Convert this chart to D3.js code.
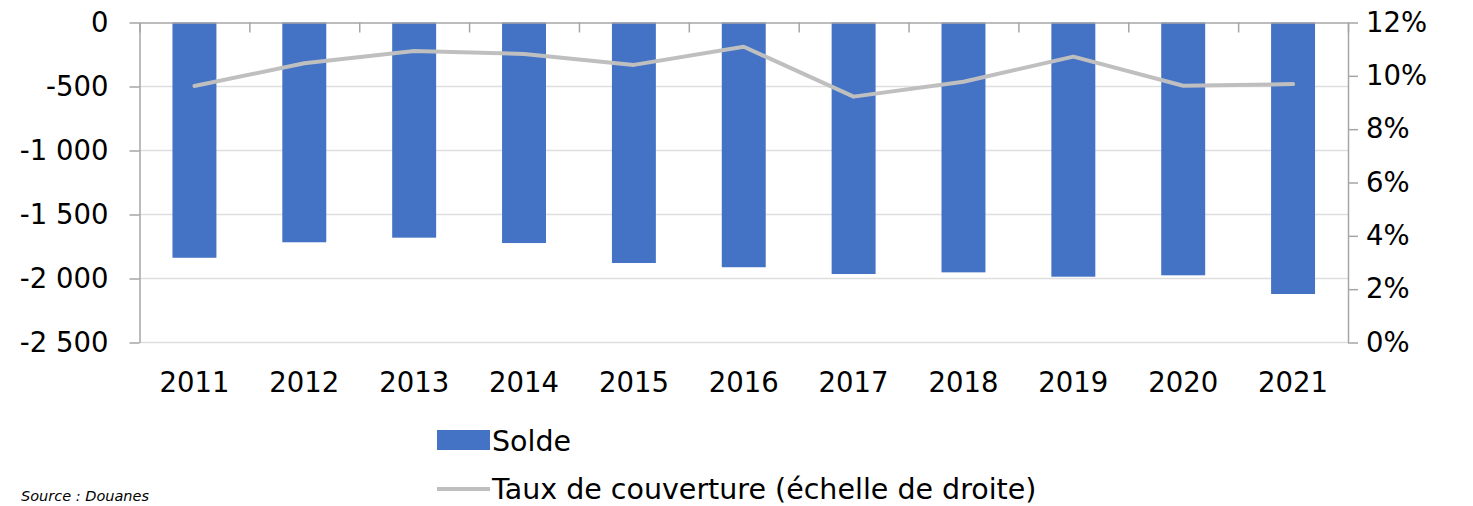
<!DOCTYPE html>
<html>
<head>
<meta charset="utf-8">
<script src="https://cdn.jsdelivr.net/npm/d3@7"></script>
<style>
  body { margin: 0; background: #fff; }
  svg { display: block; font-family: 'DejaVu Sans', Verdana, sans-serif; }
</style>
</head>
<body>
<div id="chart"></div>
<script>
// data
const years = ['2011', '2012', '2013', '2014', '2015', '2016', '2017', '2018', '2019', '2020', '2021'];
const solde = [-1838, -1717, -1681, -1723, -1879, -1912, -1965, -1952, -1986, -1975, -2121];
const taux = [9.62, 10.47, 10.93, 10.82, 10.41, 11.09, 9.22, 9.78, 10.72, 9.63, 9.69];
const leftTicks = [0, -500, -1000, -1500, -2000, -2500];
const rightTicks = [0, 2, 4, 6, 8, 10, 12];

const width = 1473, height = 506;
const margin = { top: 22.5, left: 139.5, right: 125, bottom: 163.5 };
const chartWidth = width - margin.left - margin.right;
const chartHeight = height - margin.top - margin.bottom;

const barColor = '#4472c4';
const lineColor = '#bfbfbf';
const axisColor = '#a6a6a6';
const gridColor = '#dedede';

const svg = d3.select('#chart').append('svg')
  .attr('width', width)
  .attr('height', height);

const chartLayer = svg.append('g')
  .attr('transform', 'translate(' + [margin.left, margin.top] + ')');

const x = d3.scaleBand()
  .domain(years)
  .range([0, chartWidth])
  .paddingInner(0.6)
  .paddingOuter(0.3);

const y = d3.scaleLinear().domain([-2500, 0]).range([chartHeight, 0]);
const y2 = d3.scaleLinear().domain([0, 12]).range([chartHeight, 0]);

// "-2 500" style numbers
const fr = d3.formatLocale({ decimal: ',', thousands: ' ', grouping: [3], currency: ['', ''], minus: '-' });
const fmt = fr.format(',');

// gridlines
chartLayer.append('g')
  .selectAll('line')
  .data(leftTicks.filter(d => d !== 0))
  .enter().append('line')
  .attr('x1', 0).attr('x2', chartWidth)
  .attr('y1', d => y(d)).attr('y2', d => y(d))
  .attr('stroke', gridColor)
  .attr('stroke-width', 1.5);

// bars
chartLayer.append('g')
  .selectAll('rect')
  .data(solde)
  .enter().append('rect')
  .attr('x', (d, i) => x(years[i]))
  .attr('width', x.bandwidth())
  .attr('y', y(0))
  .attr('height', d => y(d) - y(0))
  .attr('fill', barColor);

// category axis along the zero line, ticks pointing down between bars
const edge = d3.scaleLinear().domain([0, years.length]).range([0, chartWidth]);
const topAxis = chartLayer.append('g')
  .attr('transform', 'translate(0,' + y(0) + ')')
  .call(d3.axisBottom(edge).tickValues(d3.range(years.length + 1)).tickSize(10).tickSizeOuter(0).tickFormat(''));

// year labels under the plot
const bottomAxis = chartLayer.append('g')
  .attr('transform', 'translate(0,' + chartHeight + ')')
  .call(d3.axisBottom(x).tickSize(0).tickPadding(30));
bottomAxis.select('.domain').remove();

// left axis
const leftAxis = chartLayer.append('g')
  .call(d3.axisLeft(y).tickValues(leftTicks).tickSize(10).tickSizeOuter(0).tickPadding(21).tickFormat(fmt));

// right axis
const rightAxis = chartLayer.append('g')
  .attr('transform', 'translate(' + chartWidth + ',0)')
  .call(d3.axisRight(y2).tickValues(rightTicks).tickSize(10).tickSizeOuter(0).tickPadding(8).tickFormat(d => d + '%'));

[topAxis, leftAxis, rightAxis].forEach(a => {
  a.selectAll('.domain, .tick line').attr('stroke', axisColor).attr('stroke-width', 1.5);
});
[bottomAxis, leftAxis, rightAxis].forEach(a => {
  a.selectAll('text').attr('font-size', 27.5).attr('fill', '#000')
    .attr('font-family', "'DejaVu Sans', Verdana, sans-serif");
});

// coverage rate line
const line = d3.line()
  .x((d, i) => x(years[i]) + x.bandwidth() / 2)
  .y(d => y2(d));

chartLayer.append('path')
  .datum(taux)
  .attr('d', line)
  .attr('fill', 'none')
  .attr('stroke', lineColor)
  .attr('stroke-width', 4)
  .attr('stroke-linecap', 'round')
  .attr('stroke-linejoin', 'round');

// legend
const legend = svg.append('g').attr('transform', 'translate(437,0)');
legend.append('rect')
  .attr('x', 0).attr('y', 430)
  .attr('width', 53).attr('height', 20)
  .attr('fill', barColor);
legend.append('text')
  .attr('x', 55).attr('y', 451)
  .attr('font-size', 28.5)
  .text('Solde');
legend.append('line')
  .attr('x1', 0).attr('x2', 53)
  .attr('y1', 489).attr('y2', 489)
  .attr('stroke', lineColor)
  .attr('stroke-width', 4);
legend.append('text')
  .attr('x', 55).attr('y', 499)
  .attr('font-size', 28.5)
  .text('Taux de couverture (échelle de droite)');

// source
svg.append('text')
  .attr('x', 21).attr('y', 501)
  .attr('font-size', 14.5)
  .attr('font-style', 'italic')
  .text('Source : Douanes');
</script>
</body>
</html>
